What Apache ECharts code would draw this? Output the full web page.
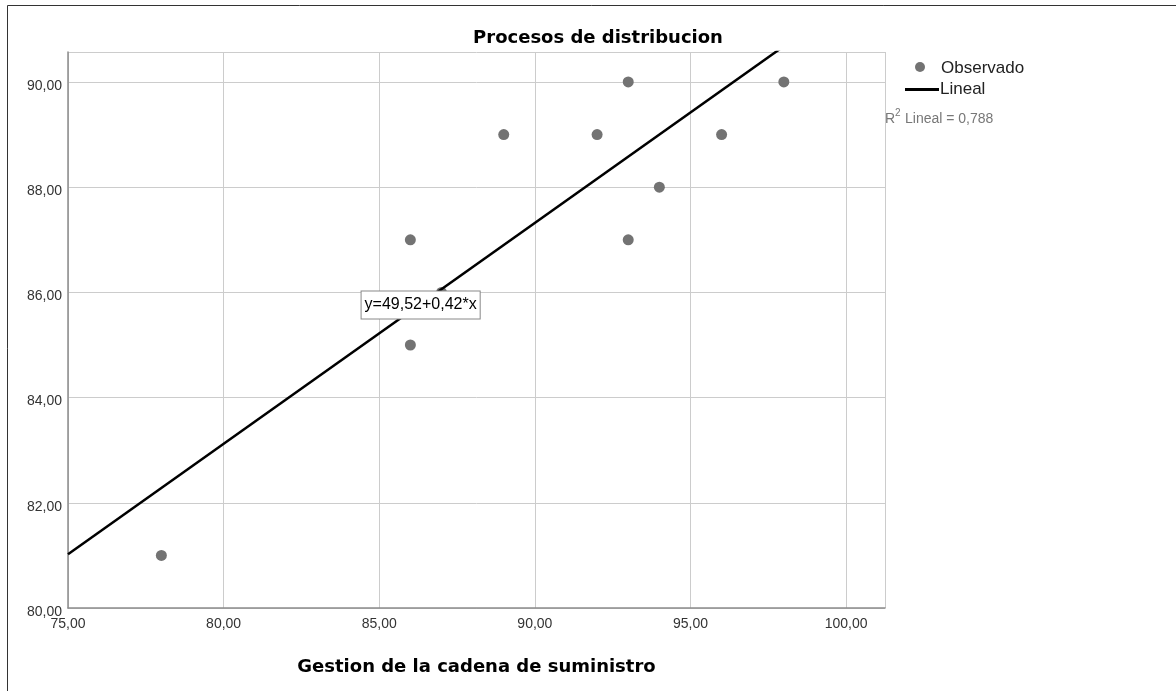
<!DOCTYPE html>
<html><head><meta charset="utf-8">
<script src="https://cdn.jsdelivr.net/npm/echarts@6/dist/echarts.min.js"></script>
<style>html,body{margin:0;padding:0;background:#fff}#c{width:1176px;height:691px}</style>
</head><body><div id="c"></div>
<script>
const obsX = [78, 86, 86, 87, 89, 92, 93, 93, 94, 96, 98];
const obsY = [81, 87, 85, 86, 89, 89, 90, 87, 88, 89, 90];
const intercept = 49.52;
const slope = 0.42;
const r2 = '0,788';
const equationText = 'y=49,52+0,42*x';
const xMin = 75, xMax = 101.25, yMin = 80, yMax = 90.57;

const fmt = v => v.toFixed(2).replace('.', ',');
const scatterData = obsX.map((x, i) => [x, obsY[i]]);
const fitData = [[xMin, intercept + slope * xMin], [xMax, intercept + slope * xMax]];
const FONT = '"Liberation Sans", Arial, sans-serif';
const BFONT = '"DejaVu Sans", "Liberation Sans", Arial, sans-serif';

const chart = echarts.init(document.getElementById('c'));
chart.setOption({
  animation: false,
  backgroundColor: '#fff',
  title: {
    text: 'Procesos de distribucion', left: 593, textAlign: 'center', top: 24,
    textStyle: {fontFamily: BFONT, fontSize: 18, fontWeight: 'bold', color: '#000'}
  },
  grid: {left: 68, right: 291, top: 52, bottom: 83},
  xAxis: {
    type: 'value', min: xMin, max: xMax, interval: 5,
    name: 'Gestion de la cadena de suministro', nameLocation: 'middle', nameGap: 50,
    nameTextStyle: {fontFamily: BFONT, fontSize: 18, fontWeight: 'bold', color: '#000'},
    axisLine: {show: true, onZero: false, lineStyle: {color: '#8c8c8c', width: 1.5}},
    axisTick: {show: false},
    axisLabel: {fontFamily: FONT, fontSize: 14, color: '#333', margin: 9, showMaxLabel: false, formatter: fmt},
    splitLine: {show: true, lineStyle: {color: '#cccccc', width: 1}}
  },
  yAxis: {
    type: 'value', min: yMin, max: yMax, interval: 2,
    axisLine: {show: true, onZero: false, lineStyle: {color: '#8c8c8c', width: 1.5}},
    axisTick: {show: false},
    axisLabel: {fontFamily: FONT, fontSize: 14, color: '#333', margin: 6, verticalAlign: 'top', lineHeight: 8, showMaxLabel: false, formatter: fmt},
    splitLine: {show: true, lineStyle: {color: '#cccccc', width: 1}}
  },
  series: [
    {
      type: 'scatter', name: 'Observado', data: scatterData, symbol: 'circle', symbolSize: 11,
      itemStyle: {color: '#737373', opacity: 1}, z: 2
    },
    {
      type: 'line', name: 'Lineal', data: fitData, showSymbol: false, clip: true,
      lineStyle: {color: '#000', width: 2.5}, z: 3,
      markPoint: {
        symbol: 'rect', symbolSize: 0, z: 10,
        data: [{coord: [86.33, 85.76]}],
        label: {
          show: true, formatter: equationText, fontFamily: FONT, fontSize: 16, color: '#000',
          backgroundColor: '#fff', borderColor: '#888', borderWidth: 1, padding: [6, 3, 5, 3],
          position: 'inside'
        }
      }
    }
  ],
  graphic: [
    {type: 'line', shape: {x1: 7.5, y1: 5.5, x2: 1176, y2: 5.5}, style: {stroke: '#333', lineWidth: 1}},
    {type: 'line', shape: {x1: 7.5, y1: 5.5, x2: 7.5, y2: 691}, style: {stroke: '#333', lineWidth: 1}},
    {type: 'circle', shape: {cx: 920, cy: 67, r: 5}, style: {fill: '#737373'}},
    {type: 'text', left: 941, top: 60, style: {text: 'Observado', font: '17px ' + FONT, fill: '#222'}},
    {type: 'line', shape: {x1: 905, y1: 89.5, x2: 939, y2: 89.5}, style: {stroke: '#000', lineWidth: 3}},
    {type: 'text', left: 940, top: 81, style: {text: 'Lineal', font: '17px ' + FONT, fill: '#222'}},
    {type: 'text', left: 885, top: 112, style: {text: 'R', font: '14px ' + FONT, fill: '#777'}},
    {type: 'text', left: 895, top: 108, style: {text: '2', font: '10px ' + FONT, fill: '#777'}},
    {type: 'text', left: 905, top: 112, style: {text: 'Lineal = ' + r2, font: '14px ' + FONT, fill: '#777'}}
  ]
});
</script>
</body></html>
